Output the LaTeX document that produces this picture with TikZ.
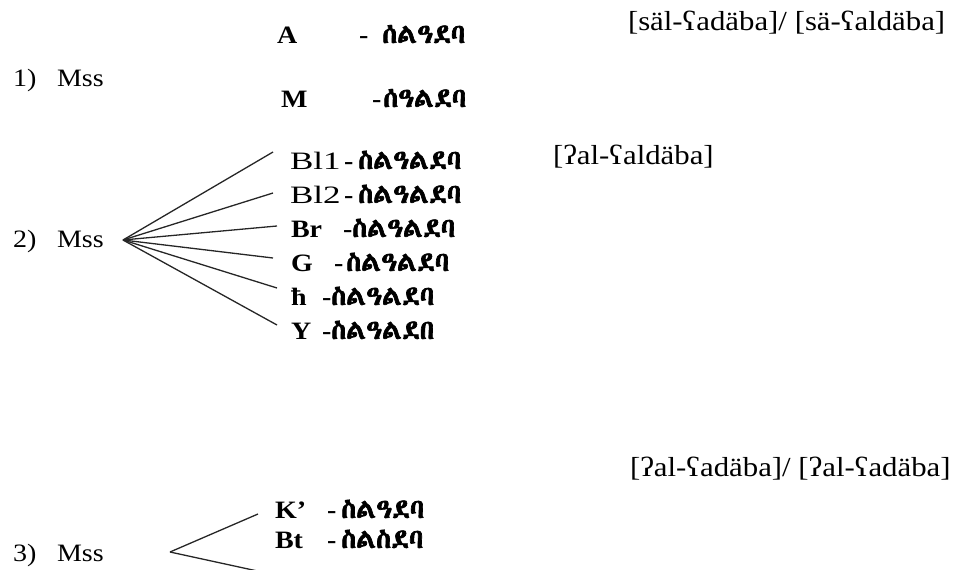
\documentclass[tikz,border=0pt]{standalone}
\usepackage{fontspec}
\setmainfont[FakeStretch=1.12]{Liberation Serif}
\IfFontExistsTF{Abyssinica SIL}{\newfontfamily\ethi[FakeBold=2.5]{Abyssinica SIL}}{%
  \IfFontExistsTF{FreeSerif}{\newfontfamily\ethi[FakeBold=2.5]{FreeSerif}}{%
    \newfontfamily\ethi{DejaVu Sans}}}
\newcommand{\eth}[1]{{\fontsize{27}{30}\selectfont\ethi #1}}
\begin{document}
\begin{tikzpicture}[x=1pt,y=-1pt,
  every node/.style={inner sep=0pt,outer sep=0pt,anchor=base west,font=\fontsize{25}{30}\selectfont},
  sig/.style={font=\fontsize{25}{30}\selectfont\bfseries},
  sigr/.style={font=\fontsize{25}{30}\selectfont},
  ethrow/.style={font=\fontsize{25}{30}\selectfont\bfseries},
  ipa/.style={font=\fontsize{27.5}{30}\selectfont},
  conn/.style={line width=1.3pt,black!85}]
\useasboundingbox (0,0) rectangle (953,570);
\clip (0,0) rectangle (953,570);
% group 1
\node (n1) at (13,86) {1)};
\node (m1) at (57,86) {Mss};
\node[sig] (sA) at (277,43) {A};
\node[ethrow] (eA) at (359,43) {-\hspace{14pt}\eth{ሰልዓደባ}};
\node[sig] (sM) at (281,107) {M};
\node[ethrow] (eM) at (372,107) {-\hspace{2pt}\eth{ሰዓልደባ}};
\node[ipa] (t1) at (628,30) {[säl-ʕadäba]/ [sä-ʕaldäba]};
% group 2
\node (n2) at (13,247) {2)};
\node (m2) at (57,247) {Mss};
\coordinate (a2) at (123,240);
\node[sigr] (s21) at (290,169) {\scalebox{1.25}[1]{Bl1}};
\node[ethrow] (e21) at (344,169) {-\hspace{5pt}\eth{ስልዓልደባ}};
\node[sigr] (s22) at (290,203) {\scalebox{1.25}[1]{Bl2}};
\node[ethrow] (e22) at (344,203) {-\hspace{5pt}\eth{ስልዓልደባ}};
\node[sig] (s23) at (291,237) {Br};
\node[ethrow] (e23) at (343,237) {-\hspace{0pt}\eth{ስልዓልደባ}};
\node[sig] (s24) at (291,271) {G};
\node[ethrow] (e24) at (334,271) {-\hspace{3pt}\eth{ስልዓልደባ}};
\node[sig] (s25) at (291,305) {ħ};
\node[ethrow] (e25) at (322,305) {-\hspace{0pt}\eth{ስልዓልደባ}};
\node[sig] (s26) at (291,339) {Y};
\node[ethrow] (e26) at (322,339) {-\hspace{0pt}\eth{ስልዓልደበ}};
\coordinate (b1) at (273,152);
\coordinate (b2) at (273,193);
\coordinate (b3) at (277,226);
\coordinate (b4) at (273,258);
\coordinate (b5) at (277,288);
\coordinate (b6) at (277,325);
\foreach \e in {b1,b2,b3,b4,b5,b6} \draw[conn] (a2) -- (\e);
\node[ipa] (t2) at (553,164) {[ʔal-ʕaldäba]};
% group 3
\node[ipa] (t3) at (630,476) {[ʔal-ʕadäba]/ [ʔal-ʕadäba]};
\node (n3) at (13,561) {3)};
\node (m3) at (57,561) {Mss};
\coordinate (a3) at (170,552);
\coordinate (c1) at (258,514);
\coordinate (c2) at (262,572);
\node[sig] (s31) at (275,518) {K’};
\node[ethrow] (e31) at (327,518) {-\hspace{5pt}\eth{ስልዓደባ}};
\node[sig] (s32) at (275,548) {Bt};
\node[ethrow] (e32) at (327,548) {-\hspace{5pt}\eth{ስልስደባ}};
\draw[conn] (a3) -- (c1);
\draw[conn] (a3) -- (c2);
\end{tikzpicture}
\end{document}
